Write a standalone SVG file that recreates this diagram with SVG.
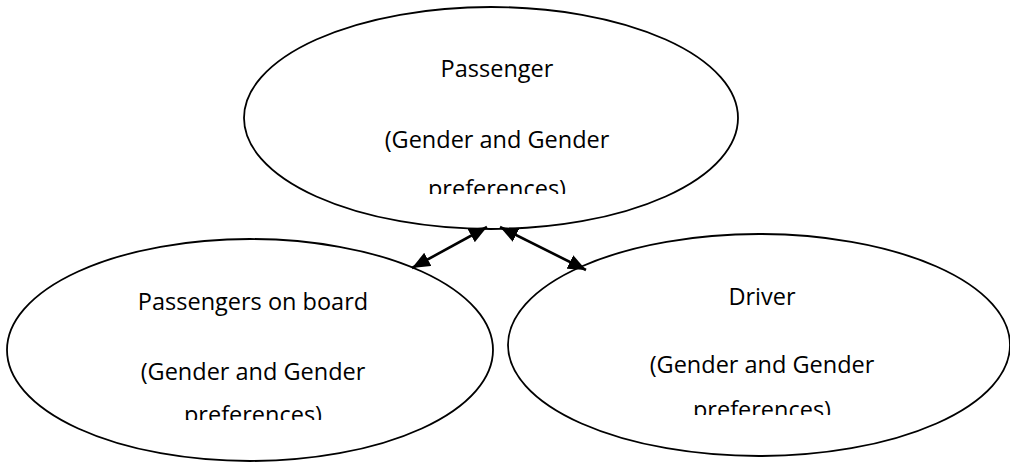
<svg xmlns="http://www.w3.org/2000/svg" width="1010" height="464" viewBox="0 0 1010 464">
  <style>
    .node ellipse { fill: #ffffff; stroke: #000000; stroke-width: 1.8; }
    .label { font-family: "Open Sans", "Liberation Sans", Arial, sans-serif; font-size: 23.5px; fill: #000000; text-anchor: middle; }
    .link { stroke: #000000; stroke-width: 2.6; fill: none; marker-start: url(#head); marker-end: url(#head); }
  </style>
  <defs>
    <marker id="head" viewBox="0 0 18 15" refX="18" refY="7.5" markerWidth="18" markerHeight="15" markerUnits="userSpaceOnUse" orient="auto-start-reverse">
      <path d="M0,0 L18,7.5 L0,15 Z" fill="#000000"/>
    </marker>
    <!-- text boxes cut off the last line of each label -->
    <clipPath id="clip-passenger"><rect x="244" y="0" width="495" height="194"/></clipPath>
    <clipPath id="clip-onboard"><rect x="7" y="239" width="486" height="181"/></clipPath>
    <clipPath id="clip-driver"><rect x="508" y="234" width="502" height="181"/></clipPath>
  </defs>
  <rect width="1010" height="464" fill="#ffffff"/>

  <g id="passenger" class="node">
    <ellipse cx="491" cy="118" rx="247" ry="111"/>
    <g clip-path="url(#clip-passenger)">
      <text class="label" x="497" y="77">Passenger</text>
      <text class="label" x="497" y="148">(Gender and Gender</text>
      <text class="label" x="497" y="197">preferences)</text>
    </g>
  </g>

  <g id="passengers-on-board" class="node">
    <ellipse cx="250" cy="350" rx="243" ry="111"/>
    <g clip-path="url(#clip-onboard)">
      <text class="label" x="253" y="310">Passengers on board</text>
      <text class="label" x="253" y="380">(Gender and Gender</text>
      <text class="label" x="253" y="423">preferences)</text>
    </g>
  </g>

  <g id="driver" class="node">
    <ellipse cx="759" cy="345" rx="251" ry="111"/>
    <g clip-path="url(#clip-driver)">
      <text class="label" x="762" y="305">Driver</text>
      <text class="label" x="762" y="373">(Gender and Gender</text>
      <text class="label" x="762" y="418">preferences)</text>
    </g>
  </g>

  <g id="connectors">
    <line class="link" x1="487" y1="227" x2="412" y2="268"/>
    <line class="link" x1="500" y1="227" x2="586" y2="270"/>
  </g>
</svg>
